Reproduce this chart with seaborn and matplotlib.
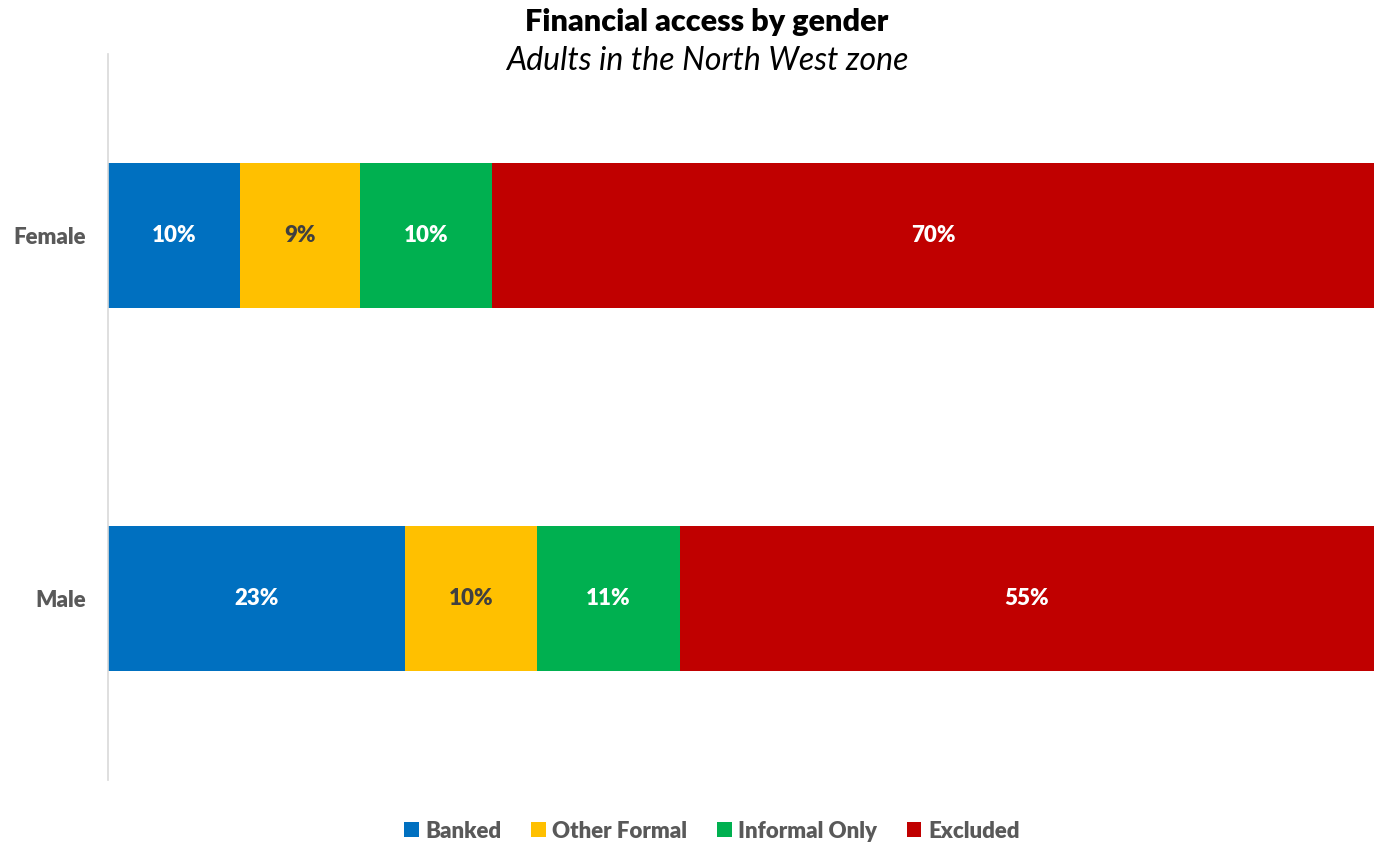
import matplotlib
matplotlib.use("Agg")
import matplotlib.pyplot as plt
import seaborn as sns
import pandas as pd
from matplotlib.patches import Patch

# Shares of adults (percent) by access strand
genders = ["Female", "Male"]
strands = ["Banked", "Other Formal", "Informal Only", "Excluded"]
banked = [10.45, 23.45]
other_formal = [9.45, 10.45]
informal_only = [10.45, 11.25]
excluded = [69.65, 54.85]

colors = ["#0070C0", "#FFC000", "#00B050", "#C00000"]
label_colors = ["white", "#404040", "white", "white"]

sns.set_theme(style="white")
plt.rcParams["font.family"] = ["Lato", "DejaVu Sans"]
HEAVY = 800

series = [banked, other_formal, informal_only, excluded]
df = pd.DataFrame({"gender": genders})
for name, vals in zip(strands, series):
    df[name] = vals
cum = df[strands].cumsum(axis=1)
cum["gender"] = df["gender"]

fig = plt.figure(figsize=(13.74, 8.43), dpi=100)
ax = fig.add_axes([108 / 1374, 1 - 780 / 843, 1 - 108 / 1374, (780 - 54) / 843])

# Stack by drawing cumulative totals from the outermost segment inward
for i in reversed(range(len(strands))):
    sns.barplot(data=cum, x=strands[i], y="gender", order=genders,
                color=colors[i], width=0.4, orient="h", saturation=1,
                ax=ax, linewidth=0)

for j, g in enumerate(genders):
    for i, s in enumerate(strands):
        v = df.loc[j, s]
        center = cum.loc[j, s] - v / 2
        ax.text(center, j, f"{v:.0f}%", ha="center", va="center",
                fontsize=16, fontweight=HEAVY, color=label_colors[i])

ax.set_xlim(0, 100)
ax.set_ylim(1.5, -0.5)
ax.set_xlabel("")
ax.set_ylabel("")
ax.set_xticks([])
ax.tick_params(axis="y", length=0, pad=16)
for lab in ax.get_yticklabels():
    lab.set_fontsize(16)
    lab.set_fontweight(HEAVY)
    lab.set_color("#595959")
for side in ["top", "right", "bottom"]:
    ax.spines[side].set_visible(False)
ax.spines["left"].set_color("#D9D9D9")
ax.spines["left"].set_linewidth(1.2)

fig.text(707 / 1374, 1 - 22 / 843, "Financial access by gender", ha="center",
         va="center", fontsize=22, fontweight=HEAVY, color="black")
fig.text(707 / 1374, 1 - 61 / 843, "Adults in the North West zone", ha="center",
         va="center", fontsize=23, style="italic", color="black")

handles = [Patch(facecolor=c, edgecolor="none") for c in colors]
leg = fig.legend(handles, strands, loc="center", ncol=4,
                 bbox_to_anchor=(712 / 1374, 1 - 831 / 843), frameon=False,
                 handlelength=0.64, handleheight=0.64, handletextpad=0.3,
                 columnspacing=1.35, prop={"size": 16, "weight": HEAVY})
for t in leg.get_texts():
    t.set_color("#595959")

fig.savefig("out.png", dpi=100)
